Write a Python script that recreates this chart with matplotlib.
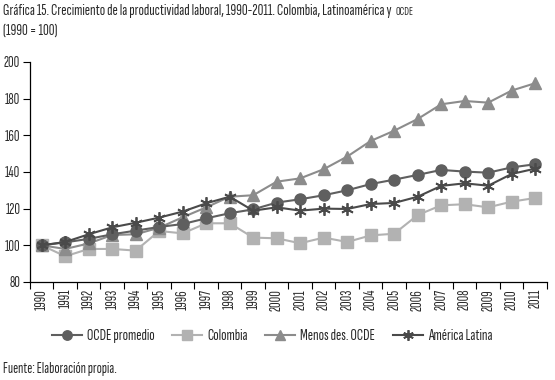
import matplotlib

matplotlib.use("Agg")

import matplotlib.pyplot as plt
import numpy as np
from matplotlib.ticker import FixedLocator


YEARS = [str(y) for y in range(1990, 2012)]

OCDE_PROMEDIO = [
    100, 101.6, 103.5, 106, 108, 110, 111.6, 114.7, 117.5, 119.6, 123.3,
    125.1, 127.3, 130.0, 133.4, 135.8, 138.4, 141.1, 140.2, 139.6, 142.5, 144.2,
]
COLOMBIA = [
    100, 94, 98, 98, 97.1, 107.8, 106.5, 112, 112, 104.2, 103.8,
    101.1, 104.2, 101.8, 105.4, 106.3, 116.5, 121.8, 122.4, 120.7, 123.8, 125.8,
]
MENOS_DES = [
    100, 98, 101, 105.6, 106, 109.6, 115.3, 120.7, 126.5, 127.3, 134.7,
    136.5, 141.5, 148.4, 156.9, 162.5, 168.9, 176.9, 178.7, 177.8, 184.4, 188.4,
]
AMERICA_LATINA = [
    100, 101.8, 106, 109.8, 112.3, 115.1, 118.4, 122.9, 126.5, 118.9, 120.7,
    118.9, 120, 119.8, 122.5, 123.1, 126.5, 132.4, 133.8, 132.5, 138.9, 141.8,
]

FONT = ["Sofia Sans Extra Condensed", "DejaVu Sans"]
TEXT_COLOR = "#2a2a2a"


def main():
    plt.rcParams["font.family"] = FONT

    fig = plt.figure(figsize=(5.55, 3.8), dpi=100)
    ax = fig.add_axes([0.054, 0.258, 0.9315, 0.579])

    x = np.arange(len(YEARS))

    ax.plot(x, OCDE_PROMEDIO, color="#5f5f5f", lw=1.5, marker="o",
            ms=8, label="OCDE promedio", zorder=4)
    ax.plot(x, COLOMBIA, color="#b2b2b2", lw=1.5, marker="s",
            ms=8, label="Colombia", zorder=2)
    ax.plot(x, MENOS_DES, color="#8c8c8c", lw=1.5, marker="^",
            ms=8, label="Menos des. OCDE", zorder=3)
    ax.plot(x, AMERICA_LATINA, color="#4a4a4a", lw=1.5, marker=(6, 2, 0),
            ms=9, mew=1.3, label="América Latina", zorder=5)

    ax.set_xlim(-0.5, len(YEARS) - 0.5)
    ax.set_ylim(80, 200)
    ax.set_yticks(range(80, 201, 20))
    ax.set_xticks(x)
    ax.set_xticklabels(YEARS, rotation=90, fontsize=11)
    ax.xaxis.set_minor_locator(FixedLocator(np.arange(-0.5, len(YEARS), 1)))
    ax.tick_params(axis="x", which="major", length=0, pad=5,
                   labelcolor=TEXT_COLOR)
    ax.tick_params(axis="x", which="minor", length=5, width=0.8,
                   direction="out")
    ax.tick_params(axis="y", length=5, width=0.8, labelsize=11, pad=2,
                   labelcolor=TEXT_COLOR)

    for side in ["top", "right"]:
        ax.spines[side].set_visible(False)
    for side in ["left", "bottom"]:
        ax.spines[side].set_linewidth(0.9)

    title = fig.text(0.006, 0.99,
                     "Gráfica 15. Crecimiento de la productividad laboral, "
                     "1990-2011. Colombia, Latinoamérica y",
                     fontsize=11.5, ha="left", va="top", color=TEXT_COLOR)
    ax.annotate("OCDE", xy=(1, 0), xycoords=title, xytext=(2.5, 0.3),
                textcoords="offset points", fontsize=8.5, ha="left",
                va="bottom", color=TEXT_COLOR, annotation_clip=False)
    fig.text(0.006, 0.937, "(1990 = 100)", fontsize=11.5, ha="left",
             va="top", color=TEXT_COLOR)

    fig.legend(loc="center", bbox_to_anchor=(0.49, 0.115), ncol=4,
               frameon=False, fontsize=11.5, handlelength=1.9,
               columnspacing=1.1, handletextpad=0.3, markerscale=0.85,
               labelcolor=TEXT_COLOR)

    fig.text(0.006, 0.03, "Fuente: Elaboración propia.", fontsize=11,
             ha="left", va="center", color=TEXT_COLOR)

    fig.savefig("out.png", dpi=100)
    plt.close(fig)


if __name__ == "__main__":
    main()
